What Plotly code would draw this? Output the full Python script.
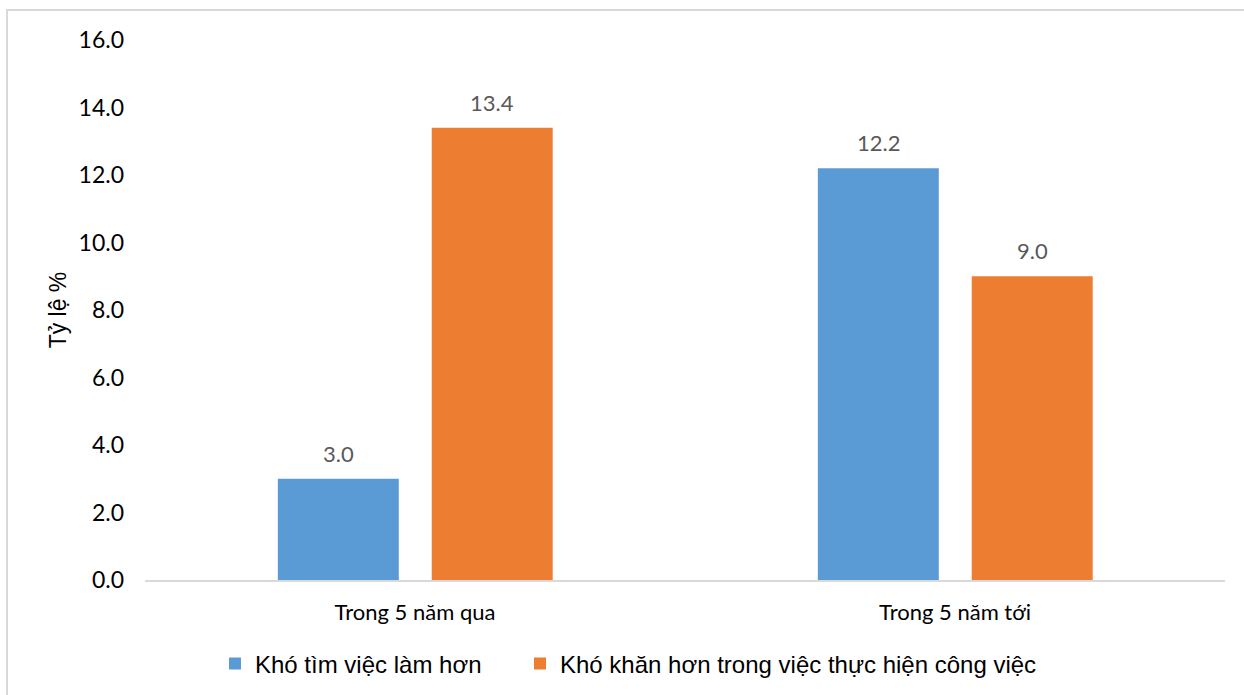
import plotly.graph_objects as go

# Survey shares (%) by period
categories = ["Trong 5 năm qua", "Trong 5 năm tới"]
series_names = ["Khó tìm việc làm hơn", "Khó khăn hơn trong việc thực hiện công việc"]
harder_to_find_job = [3.0, 12.2]
harder_to_do_job = [13.4, 9.0]
y_ticks = [0, 2, 4, 6, 8, 10, 12, 14, 16]

colors = ["#5B9BD5", "#ED7D31"]
calibri_like = "Lato, Carlito, sans-serif"
arial_like = "Liberation Sans, Arial, sans-serif"
legend_font = dict(family=arial_like, size=24, color="#000000")

fig = go.Figure()
annotations = []
for name, vals, col, off, leg in [
    (series_names[0], harder_to_find_job, colors[0], -0.254, "legend"),
    (series_names[1], harder_to_do_job, colors[1], 0.031, "legend2"),
]:
    fig.add_trace(go.Bar(
        x=categories, y=vals, name=name,
        marker=dict(color=col, line=dict(width=0)),
        width=0.224, offset=off, legend=leg,
    ))
    # value labels centred above each bar
    for i, v in enumerate(vals):
        annotations.append(dict(
            x=i + off + 0.112, y=v, xref="x", yref="y",
            text=f"{v:.1f}", showarrow=False,
            yanchor="bottom", yshift=10,
            font=dict(family=calibri_like, size=22, color="#595959"),
        ))

fig.update_layout(
    width=1244, height=695,
    margin=dict(l=145, r=19, t=40, b=115, autoexpand=False),
    paper_bgcolor="white", plot_bgcolor="white",
    barmode="group",
    showlegend=True,
    legend=dict(
        orientation="h", x=(215 - 145) / 1080, xanchor="left",
        y=(580 - 664) / 540, yanchor="middle",
        font=legend_font, itemwidth=30, bgcolor="rgba(0,0,0,0)",
    ),
    legend2=dict(
        orientation="h", x=(520 - 145) / 1080, xanchor="left",
        y=(580 - 664) / 540, yanchor="middle",
        font=legend_font, itemwidth=30, bgcolor="rgba(0,0,0,0)",
    ),
    xaxis=dict(
        showline=True, linecolor="#D9D9D9", linewidth=2,
        ticks="", showgrid=False,
        tickfont=dict(family=calibri_like, size=22, color="#000000"),
        ticklabelstandoff=12,
    ),
    yaxis=dict(
        range=[0, 16], tickvals=y_ticks,
        tickformat=".1f", showgrid=False, zeroline=False, showline=False,
        tickfont=dict(family=calibri_like, size=23, color="#000000"),
        ticklabelstandoff=20,
        title=dict(text="Tỷ lệ %", standoff=5,
                   font=dict(family=arial_like, size=23, color="#000000")),
    ),
    annotations=annotations,
    shapes=[dict(
        type="rect", xref="paper", yref="paper",
        x0=(7 - 145) / 1080, x1=(1260 - 145) / 1080,
        y0=(580 - 720) / 540, y1=(580 - 10) / 540,
        line=dict(color="#D9D9D9", width=2), fillcolor="rgba(0,0,0,0)", layer="below",
    )],
)

fig.write_html("out.html")
